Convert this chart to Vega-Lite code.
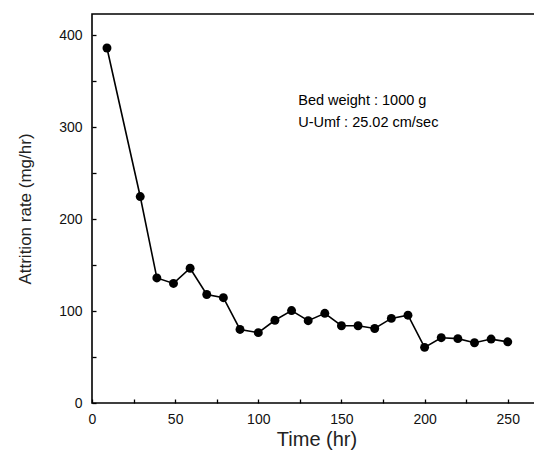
{
  "$schema": "https://vega.github.io/schema/vega-lite/v6.json",
  "autosize": "none",
  "width": 449,
  "height": 389,
  "padding": {"left": 92, "top": 14, "right": 0, "bottom": 50},
  "background": "white",
  "config": {
    "view": {"stroke": "black", "strokeWidth": 1.6},
    "font": "Liberation Sans"
  },
  "data": {
    "values": [
      {"time": 9, "rate": 386},
      {"time": 29, "rate": 224.5},
      {"time": 39, "rate": 136},
      {"time": 49, "rate": 130},
      {"time": 59, "rate": 146.5},
      {"time": 69, "rate": 118},
      {"time": 79, "rate": 114.5},
      {"time": 89, "rate": 80},
      {"time": 100, "rate": 76.5},
      {"time": 110, "rate": 90},
      {"time": 120, "rate": 100.5},
      {"time": 130, "rate": 89.5},
      {"time": 140, "rate": 97.5},
      {"time": 150, "rate": 84},
      {"time": 160, "rate": 84},
      {"time": 170, "rate": 81},
      {"time": 180, "rate": 92},
      {"time": 190, "rate": 95.5},
      {"time": 200, "rate": 60.5},
      {"time": 210, "rate": 71},
      {"time": 220, "rate": 70},
      {"time": 230, "rate": 65.5},
      {"time": 240, "rate": 69.5},
      {"time": 250, "rate": 66.5}
    ]
  },
  "encoding": {
    "x": {
      "field": "time", "type": "quantitative",
      "scale": {"domain": [0, 270], "nice": false, "zero": false},
      "axis": {
        "title": "Time (hr)", "titleFontSize": 20, "titleFontWeight": "normal", "titleColor": "#222", "titlePadding": 3,
        "values": [0, 25, 50, 75, 100, 125, 150, 175, 200, 225, 250],
        "labelExpr": "datum.value % 50 === 0 ? datum.label : ''",
        "grid": false, "domain": false, "offset": -4,
        "tickColor": "black", "tickSize": 4, "tickWidth": 1.3,
        "labelFontSize": 14, "labelColor": "#111", "labelPadding": 9, "labelFlush": false
      }
    },
    "y": {
      "field": "rate", "type": "quantitative",
      "scale": {"domain": [0, 423], "nice": false},
      "axis": {
        "title": "Attrition rate (mg/hr)", "titleFontSize": 17, "titleFontWeight": "normal", "titleColor": "#222", "titlePadding": 24,
        "values": [0, 50, 100, 150, 200, 250, 300, 350, 400],
        "labelExpr": "datum.value % 100 === 0 ? datum.label : ''",
        "grid": false, "domain": false, "offset": -4,
        "tickColor": "black", "tickSize": 4, "tickWidth": 1.3,
        "labelFontSize": 14, "labelColor": "#111", "labelPadding": 10, "labelFlush": false
      }
    }
  },
  "layer": [
    {"mark": {"type": "line", "color": "black", "strokeWidth": 1.6}},
    {"mark": {"type": "point", "filled": true, "color": "black", "opacity": 1, "size": 80}},
    {
      "data": {"values": [
        {"tx": 124, "ty": 328, "label": "Bed weight : 1000 g"},
        {"tx": 124, "ty": 305, "label": "U-Umf : 25.02 cm/sec"}
      ]},
      "mark": {"type": "text", "align": "left", "baseline": "middle", "fontSize": 14.5, "color": "black"},
      "encoding": {
        "x": {"field": "tx", "type": "quantitative"},
        "y": {"field": "ty", "type": "quantitative"},
        "text": {"field": "label"}
      }
    }
  ]
}
